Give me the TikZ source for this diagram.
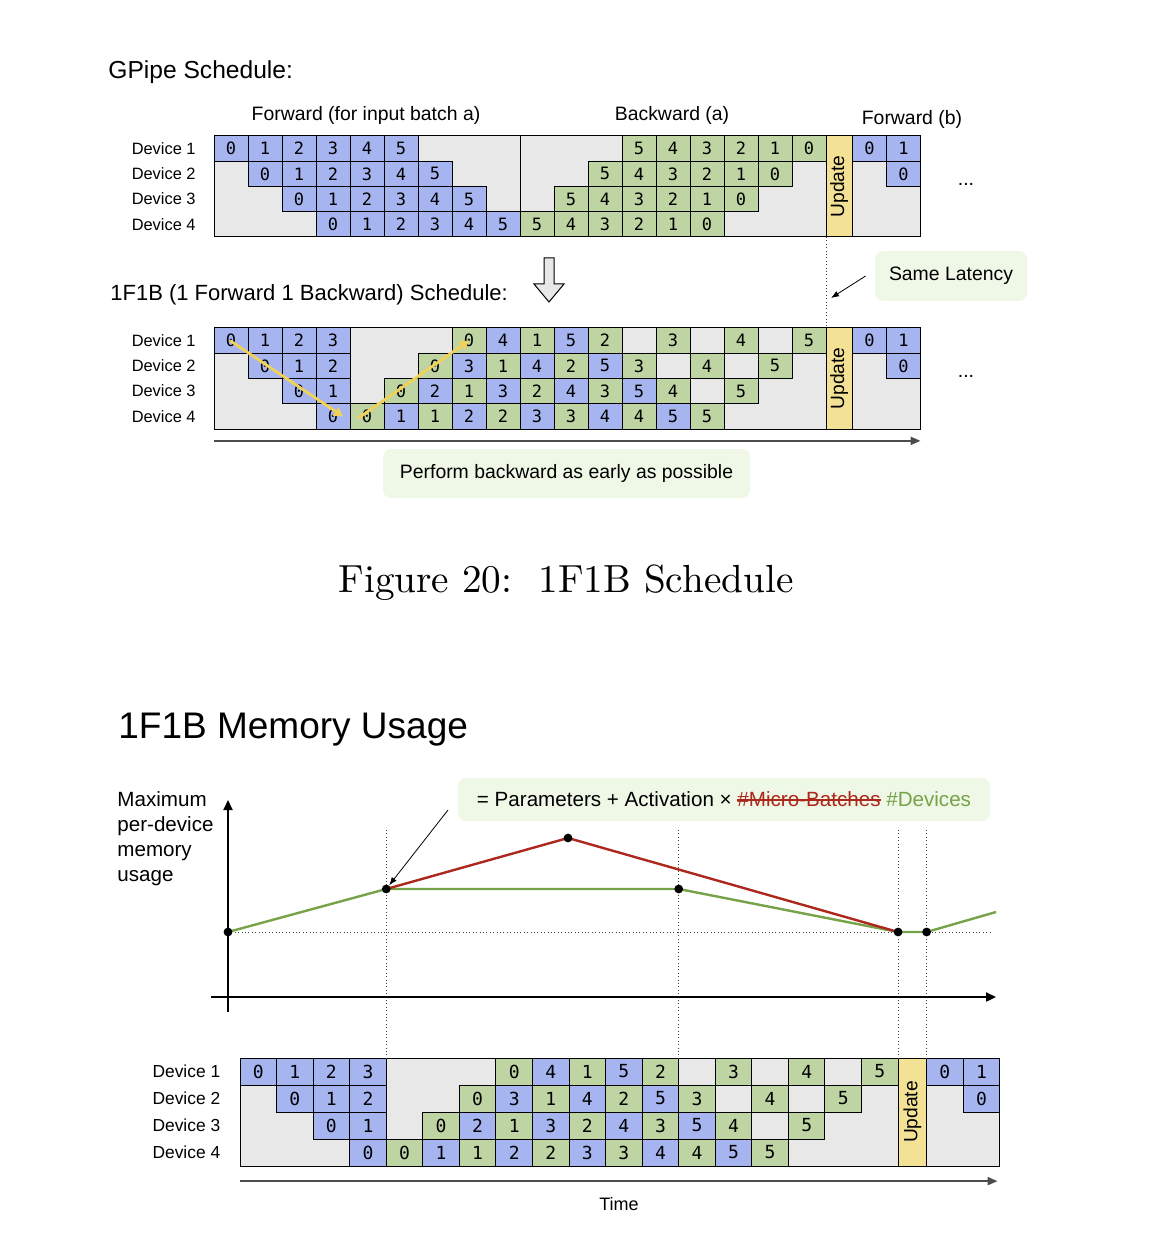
\documentclass[tikz,border=0pt]{standalone}
\usepackage{fontspec}
\setsansfont{Liberation Sans}
\newfontfamily\cellfont{DejaVu Sans Mono}
\newfontfamily\capfont{lmroman10-regular}[Extension=.otf]
\usetikzlibrary{positioning}
\usetikzlibrary{arrows.meta}

\definecolor{fwdblue}{RGB}{166,181,240}
\definecolor{bwdgreen}{RGB}{190,212,163}
\definecolor{idlegray}{RGB}{232,232,232}
\definecolor{updyellow}{RGB}{243,226,150}
\definecolor{notegreen}{RGB}{239,248,231}
\definecolor{memred}{RGB}{172,40,28}
\definecolor{memgreen}{RGB}{118,162,72}
\definecolor{pathyellow}{RGB}{240,210,90}

\newcommand{\cellw}{17pt}
\newcommand{\cellh}{12.625pt}
\newcommand{\cellfs}{8.5}
\newcommand{\strikeout}[1]{\setbox0\hbox{#1}\rlap{\raisebox{0.3em}{\rule{\wd0}{0.07em}}}\box0}

\tikzset{
    cell/.style = {rectangle, draw=black, line width=0.5pt, inner sep=0pt, minimum width=\cellw, minimum height=\cellh, font=\cellfont\fontsize{\cellfs}{\cellfs}\selectfont},
    cellf/.style = {cell, fill=fwdblue},   % forward
    cellb/.style = {cell, fill=bwdgreen},  % backward
    idle/.style = {draw=black, line width=0.5pt, fill=idlegray},
    upd/.style = {rectangle, draw=black, line width=0.5pt, fill=updyellow, rotate=90, inner sep=0pt, minimum width=4*\cellh, minimum height=0.78*\cellw, font=\sffamily\fontsize{9.6}{10}\selectfont},
    devlab/.style = {anchor=east, inner sep=0pt, font=\sffamily\fontsize{8.2}{10}\selectfont},
    head/.style = {inner sep=0pt, font=\sffamily\fontsize{9.7}{12}\selectfont},
    title/.style = {anchor=base west, inner sep=0pt, font=\sffamily\fontsize{12.3}{15}\selectfont},
    note/.style = {rectangle, rounded corners=4pt, fill=notegreen, inner sep=0pt, font=\sffamily\fontsize{9.7}{12}\selectfont},
    pointer/.style = {-{Latex[length=4pt,width=3pt]}, line width=0.4pt},
    timeline/.style = {-{Triangle[length=5pt,width=4pt]}, line width=1pt, draw=black!70},
    pathmark/.style = {-{Triangle[length=4.5pt,width=5pt]}, line width=1.4pt, draw=pathyellow},
    guide/.style = {dash pattern=on 0.5pt off 1.2pt, line width=0.5pt, draw=black!75},
    memline/.style = {line width=1.2pt},
    memdot/.style = {circle, fill=black, inner sep=0pt, minimum size=4.4pt},
    axis/.style = {-{Triangle[length=5pt,width=4.5pt]}, line width=1.1pt},
    ylab/.style = {anchor=base west, inner sep=0pt, font=\sffamily\fontsize{10.3}{12}\selectfont}
}

% one 1F1B schedule, node names start with #1
\newcommand{\onefoneb}[1]{%
  \draw[idle] (0,0) rectangle (18,4);
  \draw[idle] (18.78,0) rectangle (20.78,4);
  \foreach \r/\row in {1/{0/f/0,1/f/1,2/f/2,3/f/3,7/b/0,8/f/4,9/b/1,10/f/5,11/b/2,13/b/3,15/b/4,17/b/5},
                       2/{1/f/0,2/f/1,3/f/2,6/b/0,7/f/3,8/b/1,9/f/4,10/b/2,11/f/5,12/b/3,14/b/4,16/b/5},
                       3/{2/f/0,3/f/1,5/b/0,6/f/2,7/b/1,8/f/3,9/b/2,10/f/4,11/b/3,12/f/5,13/b/4,15/b/5},
                       4/{3/f/0,4/b/0,5/f/1,6/b/1,7/f/2,8/b/2,9/f/3,10/b/3,11/f/4,12/b/4,13/f/5,14/b/5}} {
    \node[devlab] (#1d\r) at (-0.53,\r-0.5) {Device \r};
    \foreach \col/\kind/\lab in \row {
      \node[cell\kind] (#1\r-\col) at (\col+0.5,\r-0.5) {\lab};
    }
  }
  \node[upd] (#1upd) at (18.39,2) {Update};
  \node[cellf] (#1n1-0) at (19.28,0.5) {0};
  \node[cellf] (#1n1-1) at (20.28,0.5) {1};
  \node[cellf] (#1n2-0) at (20.28,1.5) {0};
}

\begin{document}
\begin{tikzpicture}[x=0.5pt, y=-0.5pt]
\useasboundingbox (0,0) rectangle (1164,1256);
%
% GPipe
\node[title] (gtitle) at (108,78.5) {GPipe Schedule:};
\node[head] (hfa) at (366,115) {Forward (for input batch a)};
\node[head] (hba) at (672,115) {Backward (a)};
\node[head] (hfb) at (912,119) {Forward (b)};
\begin{scope}[shift={(214,136)}, x=\cellw, y=-\cellh]
  \draw[idle] (0,0) rectangle (9,4);
  \draw[idle] (9,0) rectangle (18,4);
  \draw[idle] (18.78,0) rectangle (20.78,4);
  \foreach \r in {1,...,4} {
    \node[devlab] (gd\r) at (-0.53,\r-0.5) {Device \r};
    \foreach \i in {0,...,5} {
      \pgfmathtruncatemacro{\fc}{\r-1+\i}
      \pgfmathtruncatemacro{\bc}{13-\r+\i}
      \pgfmathtruncatemacro{\bl}{5-\i}
      \node[cellf] (gf\r-\i) at (\fc+0.5,\r-0.5) {\i};
      \node[cellb] (gb\r-\bl) at (\bc+0.5,\r-0.5) {\bl};
    }
  }
  \node[upd] (gupd) at (18.39,2) {Update};
  \node[cellf] (gn1-0) at (19.28,0.5) {0};
  \node[cellf] (gn1-1) at (20.28,0.5) {1};
  \node[cellf] (gn2-0) at (20.28,1.5) {0};
  \coordinate (gtop) at (18,4);
\end{scope}
\node[head] (gdots) at (966,184.5) {...};
%
\draw[fill=idlegray, line width=0.5pt] (544,258) -- (554,258) -- (554,284) -- (564,284)
  -- (549,302) -- (534,284) -- (544,284) -- cycle;
\node[title, font=\sffamily\fontsize{11}{14}\selectfont] (atitle) at (110,301) {1F1B (1 Forward 1 Backward) Schedule:};
\node[note, minimum width=76pt, minimum height=25pt] (lat) at (951,276) {Same Latency};
%
% 1F1B
\begin{scope}[shift={(214,328)}, x=\cellw, y=-\cellh]
  \onefoneb{a}
  \coordinate (abot) at (18,0);
  \coordinate (ats) at (0,4.47);
  \coordinate (ate) at (20.78,4.47);
\end{scope}
\node[head] (adots) at (966,376.5) {...};
\draw[pathmark] ([xshift=-0.5pt]a1-0.center) -- ([xshift=5pt]a4-3.center);
\draw[pathmark] ([xshift=-4.5pt,yshift=-1pt]a4-4.center) -- (a1-7.center);
\draw[guide] (gtop) -- (abot);
\coordinate (latend) at (831,298);
\draw[pointer] ([xshift=-4.5pt]lat.west) -- (latend);
\draw[timeline] (ats) -- (ate);
\node[note, minimum width=183.5pt, minimum height=24.5pt] (early) at (566.5,473.5) {Perform backward as early as possible};
%
\node[font=\capfont\fontsize{19.6}{24}\selectfont, inner sep=0pt, anchor=base] (cap) at (566,592) {Figure 20:\ \ 1F1B Schedule};
%
% memory usage
\node[title, font=\sffamily\fontsize{18.5}{22}\selectfont] (mtitle) at (118,738) {1F1B Memory Usage};
\foreach \t [count=\k] in {Maximum, per-device, memory, usage}
  \node[ylab] (ylab\k) at (117,{806.5+25.1*(\k-1)}) {\t};
\node[note, minimum width=266pt, minimum height=21.5pt, font=\sffamily\fontsize{10.3}{12}\selectfont] (formula) at (724,799.5)
  {= Parameters + Activation × {\color{memred}\strikeout{\#Micro-Batches}} {\color{memgreen}\#Devices}};
%
\renewcommand{\cellw}{18.28pt}
\renewcommand{\cellh}{13.5pt}
\renewcommand{\cellfs}{9}
\begin{scope}[shift={(240,1058)}, x=\cellw, y=-\cellh, devlab/.append style={font=\sffamily\fontsize{8.7}{10}\selectfont}]
  \onefoneb{m}
  \coordinate (t4) at (4,0);
  \coordinate (t12) at (12,0);
  \coordinate (t18) at (18,0);
  \coordinate (t19) at (18.78,0);
  \coordinate (mts) at (0,4.56);
  \coordinate (mte) at (20.72,4.56);
\end{scope}
\draw[timeline] (mts) -- (mte);
\node[head, font=\sffamily\fontsize{9}{11}\selectfont] (time) at (619,1204) {Time};
%
\coordinate (gtopline) at (0,830);
\coordinate (lvl) at (0,889);
\coordinate (p0) at (228,932);
\coordinate (p1) at (t4 |- lvl);
\coordinate (p2) at (568,838);
\coordinate (p3) at (t12 |- lvl);
\coordinate (p4) at (t18 |- p0);
\coordinate (p5) at (t19 |- p0);
\coordinate (p6) at (996,912);
\foreach \v in {t4,t12,t18,t19}
  \draw[guide] (\v |- gtopline) -- (\v);
\draw[guide] (p0) -- ++(764,0);
\draw[axis] (228,1012) -- (228,800);
\draw[axis] (211,997) -- (996,997);
\draw[memline, memgreen] (p0) -- (p1) -- (p3) -- (p4) -- (p5) -- (p6);
\draw[memline, memred] (p1) -- (p2) -- (p4);
\foreach \k in {0,...,5}
  \node[memdot] (d\k) at (p\k) {};
\coordinate (q) at (448,810);
\draw[pointer] (q) -- (d1);

\end{tikzpicture}
\end{document}
